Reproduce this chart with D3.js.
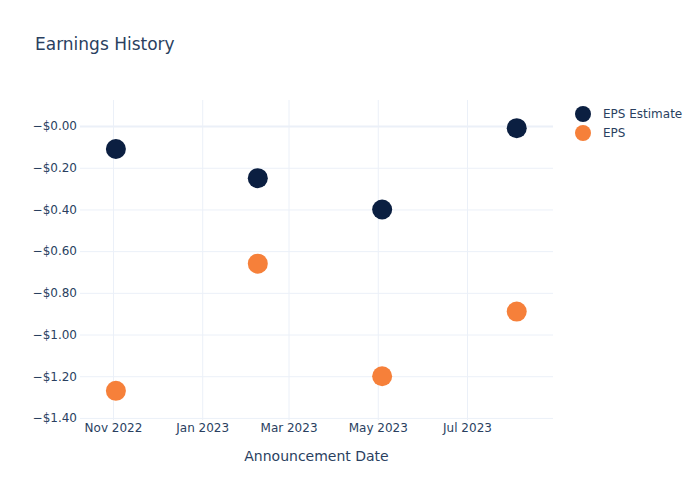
<!DOCTYPE html>
<html><head><meta charset="utf-8">
<script src="https://cdn.jsdelivr.net/npm/d3@7"></script>
<style>body{margin:0;background:#fff}svg{display:block}text{font-family:"DejaVu Sans",Verdana,sans-serif}</style>
</head><body>
<script>
const dates = ["2022-11-03","2023-02-08","2023-05-04","2023-08-04"];
const epsEstimate = [-0.11, -0.25, -0.40, -0.01];
const eps = [-1.27, -0.66, -1.20, -0.89];
const seriesNames = ["EPS Estimate", "EPS"];
const seriesColors = ["#0b1f41", "#f6803a"];
const xDomain = ["2022-10-09T11:00", "2023-08-28T19:00"];
const xTicks = ["2022-11-01","2023-01-01","2023-03-01","2023-05-01","2023-07-01"];
const yTicks = [0, -0.2, -0.4, -0.6, -0.8, -1.0, -1.2, -1.4];
const yDomain = [-1.41, 0.125];

const W = 700, H = 500;
const L = 80, R = 553, T = 100, B = 420;
const textColor = "#2a3f5f", gridColor = "#ebf0f8";
const parse = d3.timeParse("%Y-%m-%d");
const parseT = d3.isoParse;

const svg = d3.select("body").append("svg").attr("width", W).attr("height", H);

const x = d3.scaleTime().domain(xDomain.map(d => parseT(d))).range([L, R]);
const y = d3.scaleLinear().domain(yDomain).range([B, T]);

// grid
const xAxis = d3.axisBottom(x).tickValues(xTicks.map(parse)).tickSize(-(B - T)).tickFormat(d3.timeFormat("%b %Y"));
const gx = svg.append("g").attr("transform", `translate(0,${B})`).call(xAxis);
gx.select(".domain").remove();
gx.selectAll("line").attr("stroke", gridColor).attr("stroke-width", 1);
gx.selectAll("text").attr("fill", textColor).attr("font-size", 12).attr("dy", "0.71em").attr("y", 3);

const fmt = v => "\u2212$" + Math.abs(v).toFixed(2);
const yAxis = d3.axisLeft(y).tickValues(yTicks).tickSize(-(R - L)).tickFormat(fmt);
const gy = svg.append("g").attr("transform", `translate(${L},0)`).call(yAxis);
gy.select(".domain").remove();
gy.selectAll("line").attr("stroke", gridColor).attr("stroke-width", d => d === 0 ? 2 : 1);
gy.selectAll("text").attr("fill", textColor).attr("font-size", 12).attr("x", -3);

// points
const series = [epsEstimate, eps];
series.forEach((vals, i) => {
  svg.append("g").selectAll("circle").data(vals).join("circle")
    .attr("cx", (d, j) => x(parse(dates[j])))
    .attr("cy", d => y(d))
    .attr("r", 10)
    .attr("fill", seriesColors[i]);
});

// title
svg.append("text").attr("x", 35).attr("y", 50).attr("font-size", 17).attr("fill", textColor).text("Earnings History");

// x axis title
svg.append("text").attr("x", (L + R) / 2).attr("y", 461).attr("text-anchor", "middle")
  .attr("font-size", 14).attr("fill", textColor).text("Announcement Date");

// legend
const lg = svg.append("g");
seriesNames.forEach((n, i) => {
  const yy = 114 + i * 19;
  lg.append("circle").attr("cx", 583).attr("cy", yy).attr("r", 8).attr("fill", seriesColors[i]);
  lg.append("text").attr("x", 603).attr("y", yy).attr("dy", "0.35em").attr("font-size", 12).attr("fill", textColor).text(n);
});
</script>
</body></html>
